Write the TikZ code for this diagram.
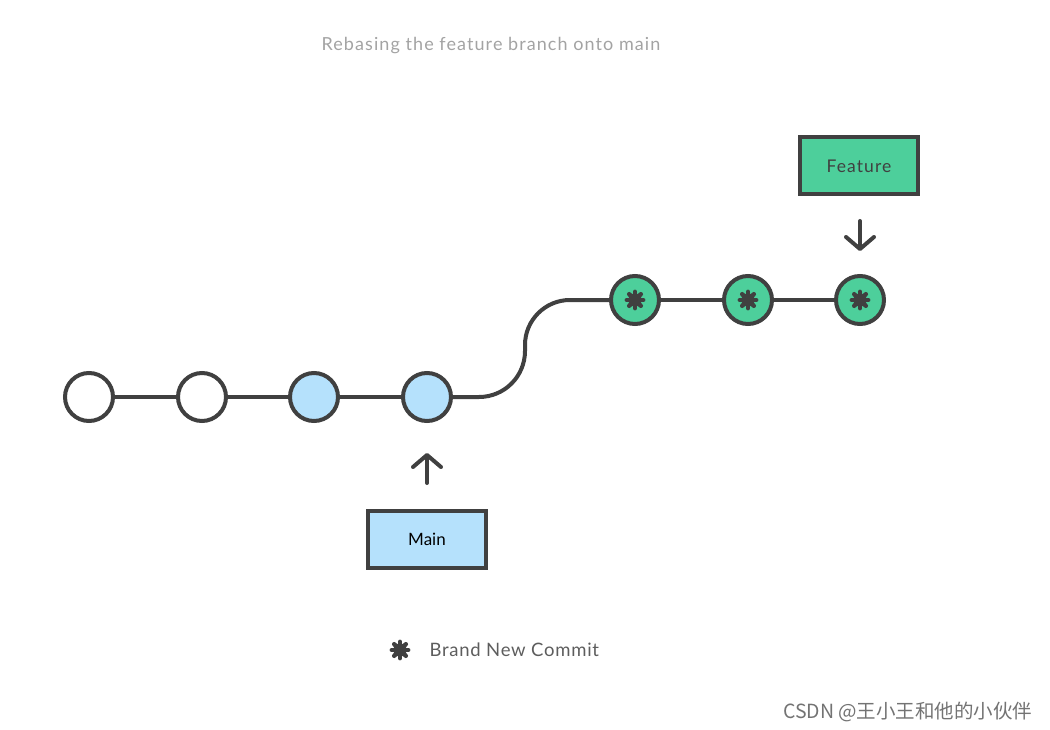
\documentclass[tikz,border=0pt]{standalone}
\usepackage{fontspec}
\setmainfont{Lato}
\newfontfamily\cjk{Noto Sans CJK SC}
\usetikzlibrary{arrows.meta}
\definecolor{ink}{HTML}{404040}
\definecolor{mainblue}{HTML}{B5E1FC}
\definecolor{featgreen}{HTML}{4DCF9B}
\definecolor{titlegray}{HTML}{A3A3A3}
\tikzset{
  commit/.style={circle, draw=ink, line width=4pt, minimum size=48pt, inner sep=0pt},
  oldc/.style={commit, fill=white},
  mainc/.style={commit, fill=mainblue},
  newc/.style={commit, fill=featgreen},
  branch/.style={draw=ink, line width=4pt, minimum width=118pt, minimum height=57pt, inner sep=0pt, font=\fontsize{17}{20}\selectfont},
  link/.style={draw=ink, line width=4pt},
  pointer/.style={draw=ink, line width=4pt, line cap=round, -{Straight Barb[length=12pt,width=28pt,round]}},
  pics/star/.style={code={
    \fill[ink] (0,0) circle (#1*0.6);
    \foreach \a in {0,45,...,315}{\draw[ink, line width=#1*0.4pt, line cap=round] (0,0) -- (\a:#1*0.75);}
  }}
}
\begin{document}
\begin{tikzpicture}[x=1pt,y=-1pt]
\useasboundingbox (0,0) rectangle (1050,730);
\node[text=titlegray, font=\fontsize{18}{21}\selectfont\addfontfeatures{LetterSpace=6}] (title) at (491,46) {Rebasing the feature branch onto main};

\node[oldc] (c1) at (89,397) {};
\node[oldc] (c2) at (202,397) {};
\node[mainc] (c3) at (314,397) {};
\node[mainc] (c4) at (427,397) {};
\node[newc] (c5) at (635,300) {};
\node[newc] (c6) at (748,300) {};
\node[newc] (c7) at (860,300) {};
\pic at (c5) {star=11};
\pic at (c6) {star=11};
\pic at (c7) {star=11};

\draw[link] (c1) -- (c2);
\draw[link] (c2) -- (c3);
\draw[link] (c3) -- (c4);
\coordinate (b1) at (479,397);
\coordinate (b2) at (525,345);
\draw[link] (c4) -- (b1) arc[start angle=90, end angle=0, radius=46] -- (b2) arc[start angle=180, end angle=270, radius=45] -- (c5);
\draw[link] (c5) -- (c6);
\draw[link] (c6) -- (c7);

\node[branch, fill=mainblue, text=black] (main) at (427,539) {Main};
\node[branch, fill=featgreen, text=ink, font=\fontsize{17.5}{20}\selectfont\addfontfeatures{LetterSpace=6}] (feature) at (859,166) {Feature};

\coordinate (mt) at (427,483);
\coordinate (mh) at (427,453);
\draw[pointer] (mt) -- (mh);
\coordinate (ft) at (860,221);
\coordinate (fh) at (860,251);
\draw[pointer] (ft) -- (fh);

\pic at (400,650) {star=11};
\node[anchor=west, text=ink!85, font=\fontsize{18.5}{21}\selectfont\addfontfeatures{LetterSpace=4}] (legend) at (426,650) {Brand New Commit};

\node[anchor=east, text=black!55, font=\cjk\fontsize{19.5}{22}\selectfont] (wm) at (1036,712) {CSDN @王小王和他的小伙伴};
\end{tikzpicture}
\end{document}
